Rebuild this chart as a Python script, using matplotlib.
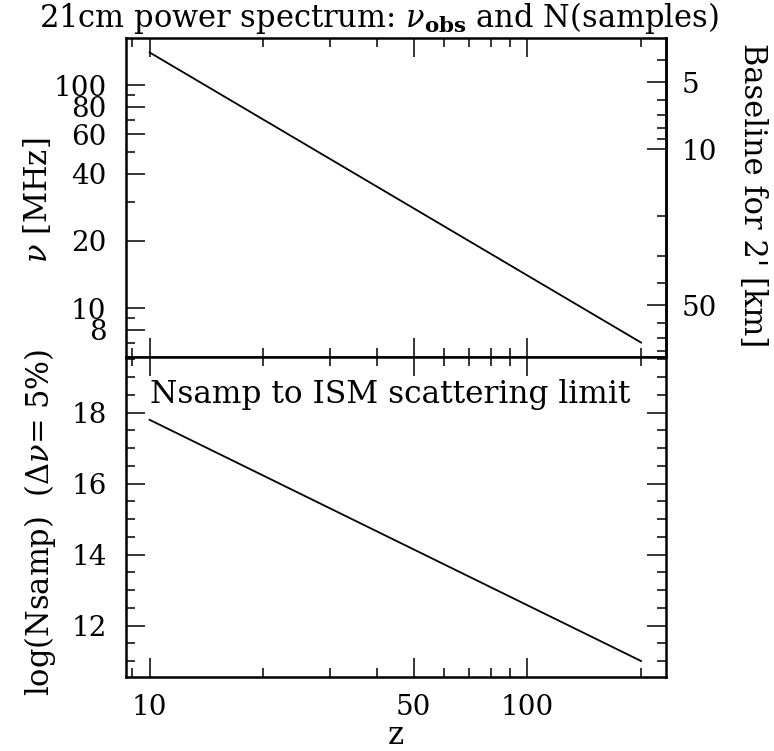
import numpy as np
import matplotlib
matplotlib.use("Agg")
import matplotlib.pyplot as plt
from matplotlib.ticker import FixedLocator, NullFormatter, FixedFormatter

plt.rcParams['font.family'] = ['DejaVu Serif']
plt.rcParams['mathtext.fontset'] = 'dejavuserif'

# data
z_pts = [10, 200]
nu_pts = [140.0, 7.0]          # MHz
lognsamp_pts = [17.8, 11.0]

z_major = [10, 50, 100]
z_minor = [9, 20, 30, 40, 60, 70, 80, 90, 200]
nu_major = [8, 10, 20, 40, 60, 80, 100]
nu_minor = [7, 9, 30, 50, 70, 90]
bl_major = [5, 10, 50]
bl_minor = [4, 6, 7, 8, 9, 20, 30, 40, 60, 70, 80]
ns_major = [12, 14, 16, 18]
ns_minor = list(np.arange(10.5, 20.0, 0.5))

BL_CONST = 515.6  # km*MHz, baseline for 2 arcmin

W, H = 774, 751
fig = plt.figure(figsize=(W / 100, H / 100), dpi=100)

L, R = 126 / W, 666 / W
ax1 = fig.add_axes([L, 1 - 357 / H, R - L, 319 / H])
ax2 = fig.add_axes([L, 1 - 677 / H, R - L, 320 / H], sharex=ax1)

TFS = 20   # tick labels
LFS = 22   # axis labels / title

def style(ax):
    for s in ax.spines.values():
        s.set_linewidth(1.8)
    ax.tick_params(which='major', direction='in', length=13.5, width=1.1, labelsize=TFS, pad=14)
    ax.tick_params(which='minor', direction='in', length=6.5, width=1.1)

ax1.plot(z_pts, nu_pts, color='black', lw=1.3)
ax1.set_xscale('log')
ax1.set_yscale('log')
ax1.set_xlim(8.66, 232.8)
ax1.set_ylim(6.03, 162.5)
style(ax1)
ax1.yaxis.set_major_locator(FixedLocator(nu_major))
ax1.yaxis.set_major_formatter(FixedFormatter([str(v) for v in nu_major]))
ax1.yaxis.set_minor_locator(FixedLocator(nu_minor))
ax1.yaxis.set_minor_formatter(NullFormatter())
ax1.tick_params(axis='x', which='both', top=True, bottom=True, labelbottom=False)
ax1.tick_params(axis='y', which='both', left=True, right=False)

sec = ax1.secondary_yaxis('right', functions=(lambda v: BL_CONST / v, lambda b: BL_CONST / b))
sec.spines['right'].set_linewidth(1.8)
sec.yaxis.set_major_locator(FixedLocator(bl_major))
sec.yaxis.set_major_formatter(FixedFormatter([str(v) for v in bl_major]))
sec.yaxis.set_minor_locator(FixedLocator(bl_minor))
sec.yaxis.set_minor_formatter(NullFormatter())
sec.tick_params(which='major', direction='in', length=13.5, width=1.1, labelsize=TFS, pad=11)
sec.tick_params(which='minor', direction='in', length=6.5, width=1.1)

ax2.plot(z_pts, lognsamp_pts, color='black', lw=1.3)
ax2.set_ylim(10.55, 19.57)
style(ax2)
ax2.xaxis.set_major_locator(FixedLocator(z_major))
ax2.xaxis.set_major_formatter(FixedFormatter([str(v) for v in z_major]))
ax2.xaxis.set_minor_locator(FixedLocator(z_minor))
ax2.xaxis.set_minor_formatter(NullFormatter())
ax2.yaxis.set_major_locator(FixedLocator(ns_major))
ax2.yaxis.set_minor_locator(FixedLocator(ns_minor))
ax2.tick_params(axis='both', which='both', top=True, right=True)
ax2.tick_params(axis='x', pad=12)

ax2.text(10, 18.5, 'Nsamp to ISM scattering limit', fontsize=22.5, va='center', ha='left')

fig.text(379 / W, 1 - 18 / H, r'21cm power spectrum: $\nu_{\mathbf{obs}}$ and N(samples)',
         fontsize=LFS, ha='center', va='center')
fig.text(38 / W, 1 - 200 / H, r'$\nu$ [MHz]', fontsize=LFS, rotation=90, ha='center', va='center')
fig.text(40 / W, 1 - 522 / H, r'log(Nsamp)  ($\Delta\nu$= 5%)', fontsize=LFS, rotation=90,
         ha='center', va='center')
fig.text(753 / W, 1 - 195 / H, "Baseline for 2' [km]", fontsize=LFS, rotation=270,
         ha='center', va='center')
fig.text(396 / W, 1 - 735 / H, 'z', fontsize=LFS, ha='center', va='center')

fig.savefig('out.png', dpi=100)
